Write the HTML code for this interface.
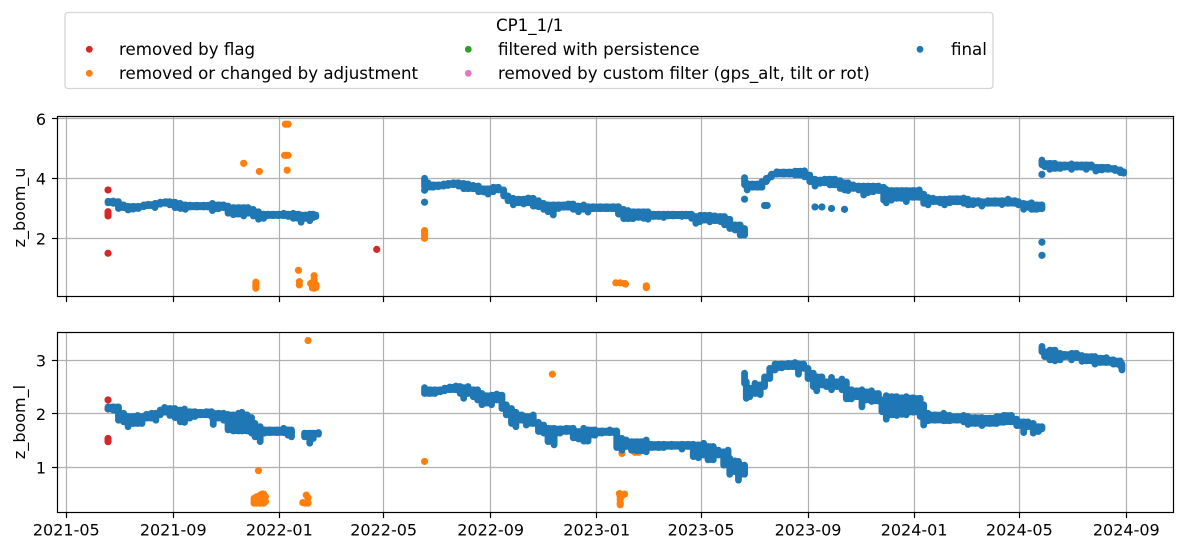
<!DOCTYPE html>
<html lang="en">
<head>
<meta charset="utf-8">
<title>z_boom time series CP1_1/1</title>
<style>
html,body{margin:0;padding:0;background:#fff;}
body{width:1185px;height:551px;overflow:hidden;}
svg{display:block;}
text{font-family:"DejaVu Sans","Liberation Sans",sans-serif;font-size:16.67px;fill:#000;}
text.axis-text{font-size:16px;}
</style>
</head>
<body>
<svg id="chart" xmlns="http://www.w3.org/2000/svg" width="1185" height="551" viewBox="0 0 1185 551">
  <rect x="0" y="0" width="1185" height="551" fill="#fff"/>
  <g id="panels"></g>
  <g>
    <rect x="65" y="12.5" width="928" height="76" rx="3" ry="3" fill="#fff" stroke="#d6d6d6" stroke-width="1.3"/>
    <text x="496" y="31">CP1_1/1</text>
    <circle cx="89.3" cy="49.3" r="3.4" fill="#d62728"/>
    <text x="119" y="55">removed by flag</text>
    <circle cx="89.3" cy="73.3" r="3.4" fill="#ff7f0e"/>
    <text x="119" y="79">removed or changed by adjustment</text>
    <circle cx="468.3" cy="49.3" r="3.4" fill="#2ca02c"/>
    <text x="498" y="55">filtered with persistence</text>
    <circle cx="468.3" cy="73.3" r="3.4" fill="#e377c2"/>
    <text x="498" y="79">removed by custom filter (gps_alt, tilt or rot)</text>
    <circle cx="920" cy="49.3" r="3.4" fill="#1f77b4"/>
    <text x="951" y="55">final</text>
  </g>
</svg>
<script>
// Axis labels
const xTickLabels = ["2021-05","2021-09","2022-01","2022-05","2022-09","2023-01","2023-05","2023-09","2024-01","2024-05","2024-09"];
const upperTickLabels = ["2","4","6"];
const lowerTickLabels = ["1","2","3"];

// Upper panel (z_boom_u). Days counted from 2021-05-01.
const upperFinalDays = [48,54,60,66,71,77,83,89,94,102,108,114,119,125,131,137,142,150,158,163,168,175,181,186,192,198,204,209,215,221,227,232,238,244,250,255,261,267,270,275,280,284,287,
412,416,422,428,434,439,445,451,457,462,468,474,480,485,491,497,503,508,514,520,526,531,537,543,549,554,560,566,572,577,583,589,595,600,606,614,621,629,635,641,646,652,658,664,669,675,681,687,692,698,708,713,719,724,729,734,740,746,752,757,763,769,775,780,
780,783,789,795,800,805,811,817,825,832,838,844,849,855,861,867,872,878,884,890,895,899,905,911,917,922,928,934,940,943,949,955,961,966,974,981,986,991,997,1005,1010,1016,1024,1032,1037,1043,1049,1053,1060,1068,1076,1083,1091,1095,1101,1106,1110,1116,1122,
1122,1125,1131,1137,1143,1148,1156,1162,1168,1173,1179,1184,1191,1198,1206,1212,1216];
const upperFinalHigh = [3.24,3.25,3.23,3.12,3.07,3.07,3.07,3.12,3.14,3.17,3.21,3.23,3.23,3.21,3.17,3.12,3.11,3.11,3.11,3.11,3.17,3.12,3.12,3.08,3.03,3.03,3.03,3.03,2.97,2.89,2.81,2.81,2.81,2.81,2.84,2.81,2.84,2.81,2.78,2.78,2.81,2.81,2.78,
4.01,3.86,3.79,3.79,3.82,3.84,3.86,3.86,3.84,3.82,3.77,3.75,3.66,3.66,3.71,3.71,3.62,3.42,3.34,3.31,3.31,3.35,3.34,3.26,3.17,3.12,3.12,3.12,3.12,3.15,3.15,3.08,3.12,3.06,3.06,3.06,3.06,3.06,3.06,2.97,2.93,2.89,2.89,2.89,2.89,2.81,2.81,2.81,2.81,2.81,2.81,2.81,2.81,2.73,2.77,2.77,2.77,2.75,2.73,2.73,2.64,2.45,2.45,2.33,
4.03,3.84,3.82,3.82,3.90,4.01,4.15,4.23,4.22,4.22,4.25,4.25,4.26,4.12,3.98,3.95,3.98,3.98,3.98,3.93,3.86,3.86,3.79,3.75,3.75,3.75,3.75,3.75,3.71,3.64,3.60,3.60,3.60,3.60,3.60,3.62,3.48,3.37,3.34,3.31,3.31,3.33,3.33,3.35,3.31,3.26,3.26,3.23,3.26,3.26,3.26,3.31,3.26,3.23,3.17,3.15,3.19,3.12,3.12,
4.62,4.51,4.51,4.51,4.46,4.46,4.49,4.46,4.46,4.46,4.46,4.38,4.38,4.38,4.34,4.29,4.23];
const upperFinalLow = [3.19,3.17,3.00,3.03,2.95,2.98,3.00,3.06,3.09,3.03,3.14,3.17,3.12,3.03,3.00,2.97,3.05,3.05,3.05,3.05,2.93,2.99,3.03,2.84,2.79,2.81,2.75,2.84,2.75,2.64,2.67,2.76,2.76,2.76,2.76,2.73,2.67,2.67,2.54,2.67,2.59,2.70,2.73,
3.73,3.71,3.71,3.73,3.75,3.77,3.80,3.75,3.66,3.66,3.66,3.56,3.55,3.48,3.56,3.62,3.42,3.26,3.12,3.19,3.15,3.19,3.08,3.06,2.97,2.89,2.78,3.00,3.04,3.04,2.97,2.89,2.97,2.88,2.99,2.99,2.99,2.99,2.81,2.66,2.66,2.66,2.70,2.67,2.64,2.73,2.73,2.70,2.75,2.75,2.73,2.75,2.67,2.50,2.56,2.61,2.55,2.59,2.56,2.45,2.33,2.28,2.11,2.11,
3.79,3.62,3.71,3.71,3.71,3.90,4.06,4.15,4.15,4.15,4.12,4.12,4.06,3.90,3.75,3.84,3.86,3.79,3.79,3.67,3.62,3.60,3.67,3.62,3.45,3.53,3.56,3.60,3.28,3.19,3.28,3.34,3.34,3.23,3.37,3.37,3.17,3.12,3.23,3.19,3.12,3.19,3.22,3.17,3.12,3.13,3.17,3.08,3.17,3.17,3.13,3.17,3.17,3.12,2.97,3.04,2.97,2.97,2.99,
4.46,4.40,4.31,4.34,4.34,4.38,4.31,4.38,4.38,4.31,4.38,4.25,4.29,4.31,4.27,4.20,4.18];
const upperStrayDays = [412,412,780,803,806,861,869,880,895,1122,1122,1122];
const upperStrayValues = [3.61,3.21,3.31,3.10,3.10,3.05,3.05,3.00,2.97,4.14,1.87,1.43];
const upperFlagDays = [48,48,48,48,48,357];
const upperFlagValues = [3.62,2.89,2.82,2.75,1.50,1.63];
const upperAdjustDays = [204,222,252,255,251,253,255,254,218,218,218,218,267,268,268,285,285,285,285,285,281,287,287,283,283,287,412,412,412,412,632,637,642,643,667,667];
const upperAdjustValues = [4.51,4.24,5.82,5.82,4.78,4.78,4.78,4.28,0.53,0.47,0.40,0.33,0.93,0.55,0.44,0.75,0.62,0.50,0.40,0.33,0.49,0.35,0.45,0.34,0.42,0.40,2.26,2.18,2.10,2.00,0.51,0.51,0.49,0.47,0.41,0.35];

// Lower panel (z_boom_l). Days counted from 2021-05-01.
const lowerFinalDays = [48,54,60,66,71,77,82,87,92,98,103,108,113,119,125,131,136,142,148,154,161,167,169,175,181,186,192,198,202,208,213,217,223,228,234,242,250,255,259,274,280,284,290,
412,418,424,430,435,441,448,453,457,462,468,473,478,483,489,495,501,506,512,517,524,529,537,543,549,554,561,568,575,583,589,595,600,608,616,625,633,639,644,650,656,662,667,673,681,687,696,708,715,721,727,733,738,744,750,756,761,763,769,773,780,
780,782,786,792,798,803,809,815,823,830,838,842,848,853,859,863,869,874,880,886,892,897,903,909,915,920,926,934,938,943,949,955,961,966,974,982,986,991,999,1009,1016,1024,1032,1037,1045,1053,1062,1070,1078,1087,1093,1101,1106,1112,1118,1122,
1122,1125,1131,1137,1143,1148,1156,1162,1168,1173,1179,1183,1189,1196,1204,1212,1214];
const lowerFinalHigh = [2.13,2.13,2.13,2.01,1.95,1.95,1.97,1.95,1.99,2.01,2.01,2.07,2.12,2.10,2.10,2.07,2.09,2.04,2.04,2.03,2.04,2.04,2.01,2.01,2.01,1.99,1.98,2.01,2.03,1.98,1.93,1.82,1.76,1.70,1.70,1.70,1.73,1.70,1.70,1.64,1.64,1.64,1.65,
2.49,2.45,2.45,2.45,2.48,2.50,2.52,2.51,2.49,2.51,2.45,2.45,2.38,2.34,2.35,2.37,2.35,2.17,2.10,2.03,1.98,1.95,1.98,1.84,1.79,1.73,1.73,1.72,1.73,1.73,1.67,1.73,1.70,1.70,1.68,1.70,1.68,1.54,1.51,1.48,1.48,1.48,1.51,1.43,1.43,1.43,1.43,1.43,1.43,1.43,1.42,1.45,1.39,1.39,1.32,1.29,1.32,1.17,1.12,1.11,1.04,
2.76,2.60,2.48,2.57,2.54,2.69,2.85,2.93,2.93,2.94,2.96,2.93,2.93,2.85,2.76,2.69,2.69,2.60,2.68,2.60,2.65,2.60,2.45,2.43,2.45,2.41,2.43,2.38,2.26,2.34,2.32,2.32,2.30,2.32,2.30,2.29,2.17,2.01,1.98,2.01,1.97,1.95,1.97,1.95,1.93,1.93,1.92,1.95,1.97,1.97,1.90,1.85,1.85,1.82,1.76,1.76,
3.26,3.16,3.19,3.19,3.13,3.11,3.13,3.13,3.09,3.07,3.07,3.07,3.04,3.05,3.01,2.99,2.93];
const lowerFinalLow = [2.09,2.07,1.88,1.85,1.76,1.82,1.82,1.82,1.92,1.92,1.88,1.98,2.03,1.97,1.93,1.85,1.84,1.92,1.95,1.98,1.98,1.95,1.80,1.92,1.88,1.70,1.68,1.68,1.68,1.68,1.64,1.57,1.48,1.64,1.65,1.65,1.65,1.60,1.57,1.57,1.45,1.54,1.62,
2.38,2.38,2.38,2.41,2.43,2.45,2.45,2.38,2.29,2.38,2.32,2.26,2.17,2.20,2.17,2.26,2.10,1.98,1.82,1.76,1.88,1.79,1.82,1.67,1.64,1.48,1.42,1.64,1.67,1.55,1.53,1.49,1.49,1.60,1.64,1.65,1.37,1.32,1.39,1.32,1.31,1.31,1.29,1.37,1.37,1.37,1.39,1.34,1.39,1.20,1.18,1.23,1.14,1.14,1.23,1.04,1.04,0.87,0.92,0.76,0.87,
2.57,2.29,2.32,2.38,2.36,2.51,2.66,2.82,2.86,2.88,2.88,2.74,2.85,2.66,2.51,2.43,2.54,2.51,2.45,2.51,2.45,2.28,2.28,2.32,2.13,2.26,2.23,2.24,2.04,1.90,1.98,1.97,1.99,1.98,2.03,1.95,1.79,1.87,1.88,1.87,1.87,1.88,1.85,1.80,1.82,1.78,1.82,1.82,1.84,1.85,1.78,1.65,1.76,1.64,1.67,1.72,
3.16,3.07,3.01,2.99,3.01,3.07,3.01,3.05,2.98,2.99,2.99,2.93,2.96,2.96,2.93,2.90,2.82];
const lowerFlagDays = [48,48,48,48,48];
const lowerFlagValues = [2.26,2.09,1.54,1.51,1.48];
const lowerAdjustDays = [278,221,216,216,216,219,219,219,221,221,223,223,223,225,225,227,227,227,229,229,218,276,278,275,278,272,412,559,639,654,658,636,637,637,637,637,642,639];
const lowerAdjustValues = [3.37,0.94,0.42,0.37,0.33,0.45,0.39,0.33,0.44,0.35,0.48,0.39,0.33,0.50,0.36,0.50,0.42,0.33,0.45,0.36,0.36,0.48,0.43,0.33,0.33,0.34,1.11,2.74,1.26,1.28,1.28,0.51,0.45,0.40,0.33,0.30,0.50,0.47];

const NS = "http://www.w3.org/2000/svg";
const root = document.getElementById("panels");
const DOT_R = 3.4;
const LONE_R = 3.6;

function xScale(day){ return 66.3 + day * (1060 / 1219); }
function tickDay(label){
  const parts = label.split("-");
  return (Date.UTC(+parts[0], +parts[1] - 1, 1) - Date.UTC(2021, 4, 1)) / 86400000;
}
function upperY(v){ return 238.33 - (v - 2) * 29.87; }
function lowerY(v){ return 467.33 - (v - 1) * 53.5; }
function snap(p){ return Math.floor(p) + 0.5; }
function make(tag, attrs, parent){
  const el = document.createElementNS(NS, tag);
  for (const k in attrs) el.setAttribute(k, attrs[k]);
  parent.appendChild(el);
  return el;
}

function drawPanel(name, top, bottom, yScale, yLabels, title, titleY, showXLabels, flagD, flagV, adjD, adjV, finD, finHi, finLo, strayD, strayV){
  const L = 57.5, R = 1173.5;
  const g = make("g", {}, root);
  
  

  const bg = make("rect", {x:L, y:top, width:R-L, height:bottom-top, fill:"#fff"}, g);
  
  

  xTickLabels.forEach(function(lab){
    const px = snap(xScale(tickDay(lab)));
    const gl = make("line", {x1:px, x2:px, y1:top, y2:bottom, stroke:"#b0b0b0", "stroke-width":1.2}, g);
    
    
    const tk = make("line", {x1:px, x2:px, y1:bottom, y2:bottom+5.6, stroke:"#000", "stroke-width":1.2}, g);
    
    
    if (showXLabels){
      const t = make("text", {x:xScale(tickDay(lab)), y:bottom+23, "text-anchor":"middle", "class":"axis-text"}, g);
      
      
      t.textContent = lab;
    }
  });

  yLabels.forEach(function(lab){
    const py = snap(yScale(+lab));
    const gl = make("line", {x1:L, x2:R, y1:py, y2:py, stroke:"#b0b0b0", "stroke-width":1.2}, g);
    
    
    const tk = make("line", {x1:L-5.6, x2:L, y1:py, y2:py, stroke:"#000", "stroke-width":1.2}, g);
    
    
    const t = make("text", {x:L-11.5, y:yScale(+lab)+6, "text-anchor":"end", "class":"axis-text"}, g);
    
    
    t.textContent = lab;
  });

  const yt = make("text", {x:0, y:0, "text-anchor":"middle", "class":"axis-text", transform:"translate(25 "+titleY+") rotate(-90)"}, g);
  
  
  yt.textContent = title;

  flagD.forEach(function(d, i){
    const c = make("circle", {cx:xScale(d), cy:yScale(flagV[i]), r:LONE_R, fill:"#d62728"}, g);
    
    
  });
  adjD.forEach(function(d, i){
    const c = make("circle", {cx:xScale(d), cy:yScale(adjV[i]), r:LONE_R, fill:"#ff7f0e"}, g);
    
    
  });

  // joins neighbouring observations only where their ranges overlap, so single spikes stay narrow
  let joinD = "";
  for (let i = 0; i < finD.length - 1; i++){
    const gap = finD[i+1] - finD[i];
    if (gap > 0 && gap <= 12){
      const x1 = xScale(finD[i]).toFixed(1), x2 = xScale(finD[i+1]).toFixed(1);
      const hi = Math.min(finHi[i], finHi[i+1]), lo = Math.max(finLo[i], finLo[i+1]);
      if (hi >= lo){
        joinD += "M"+x1+" "+yScale(hi).toFixed(1)+"L"+x2+" "+yScale(hi).toFixed(1)+"L"+x2+" "+yScale(lo).toFixed(1)+"L"+x1+" "+yScale(lo).toFixed(1)+"Z";
      } else {
        joinD += "M"+x1+" "+yScale(finLo[i]).toFixed(1)+"L"+x2+" "+yScale(finHi[i+1]).toFixed(1);
      }
    }
  }
  const join = make("path", {d:joinD, fill:"#1f77b4", stroke:"#1f77b4", "stroke-width":DOT_R*2-0.6, "stroke-linejoin":"round"}, g);
  
  

  finD.forEach(function(d, i){
    const m = make("line", {x1:xScale(d), x2:xScale(d), y1:yScale(finHi[i]), y2:yScale(finLo[i]), stroke:"#1f77b4", "stroke-width":DOT_R*2, "stroke-linecap":"round"}, g);
    
    
  });
  strayD.forEach(function(d, i){
    const c = make("circle", {cx:xScale(d), cy:yScale(strayV[i]), r:LONE_R, fill:"#1f77b4"}, g);
    
    
  });

  const frame = make("rect", {x:L, y:top, width:R-L, height:bottom-top, fill:"none", stroke:"#000", "stroke-width":1.2}, g);
  
  
}

drawPanel("upper", 116.5, 296.5, upperY, upperTickLabels, "z_boom_u", 207.5, false,
  upperFlagDays, upperFlagValues, upperAdjustDays, upperAdjustValues,
  upperFinalDays, upperFinalHigh, upperFinalLow, upperStrayDays, upperStrayValues);
drawPanel("lower", 332.5, 512.5, lowerY, lowerTickLabels, "z_boom_l", 422, true,
  lowerFlagDays, lowerFlagValues, lowerAdjustDays, lowerAdjustValues,
  lowerFinalDays, lowerFinalHigh, lowerFinalLow, [], []);
</script>
</body>
</html>
